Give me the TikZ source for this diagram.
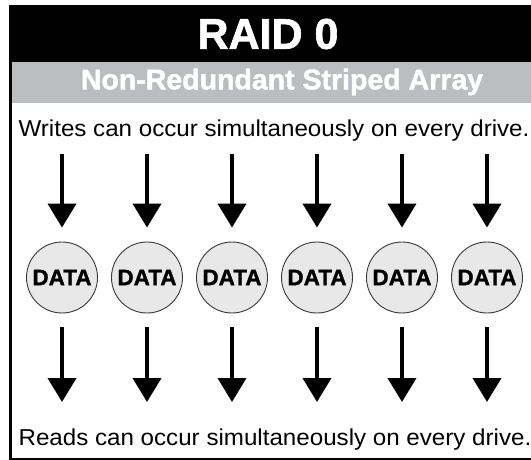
\documentclass[tikz,border=0pt]{standalone}
\usepackage{fontspec}
\setmainfont{Liberation Sans}
\newfontfamily\heavyfont[FakeBold=1.5]{Liberation Sans Bold}
\usetikzlibrary{arrows.meta}
\definecolor{bandgrey}{HTML}{BCBDC0}
\definecolor{diskfill}{HTML}{E8E8E9}
\definecolor{diskline}{HTML}{3A3A3A}
\tikzset{
  disk/.style={circle, draw=diskline, line width=0.9pt, fill=diskfill, minimum size=71pt, inner sep=0pt,
    font=\fontsize{22.5}{22.5}\heavyfont},
  bigarrow/.style={line width=4pt, -{Triangle[width=28pt,length=24pt]}},
  bodytext/.style={font=\fontsize{23}{23}\selectfont, xscale=1.05, inner sep=0pt, anchor=base},
}
\begin{document}
\begin{tikzpicture}[x=1pt,y=-1pt]
\useasboundingbox (0,0) rectangle (531,460);
% header bands
\fill[black] (9,5) rectangle (540,62);
\fill[bandgrey] (11,62) rectangle (540,103);
\node (title) at (268,34) [text=white, font=\fontsize{43}{43}\heavyfont] {RAID 0};
\node (subtitle) at (282,82) [text=white, font=\fontsize{28.5}{28.5}\heavyfont] {Non-Redundant Striped Array};
% frame
\draw[line width=3pt] (10.5,5) -- (10.5,458.5);
\draw[line width=2pt] (9,458.5) -- (540,458.5);
% texts
\node (writes) at (274,136) [bodytext] {Writes can occur simultaneously on every drive.};
\node (reads) at (275,445) [bodytext] {Reads can occur simultaneously on every drive.};
% disks and arrows
\foreach \i/\x in {1/62,2/147,3/232,4/317,5/402,6/487}{
  \node[disk] (d\i) at (\x,277.5) {DATA};
  \coordinate (ws\i) at (\x,154);
  \coordinate (re\i) at (\x,402);
  \draw[bigarrow, shorten >=14pt] (ws\i) -- (d\i.north);
  \draw[bigarrow, shorten <=14pt] (d\i.south) -- (re\i);
}
\end{tikzpicture}
\end{document}
